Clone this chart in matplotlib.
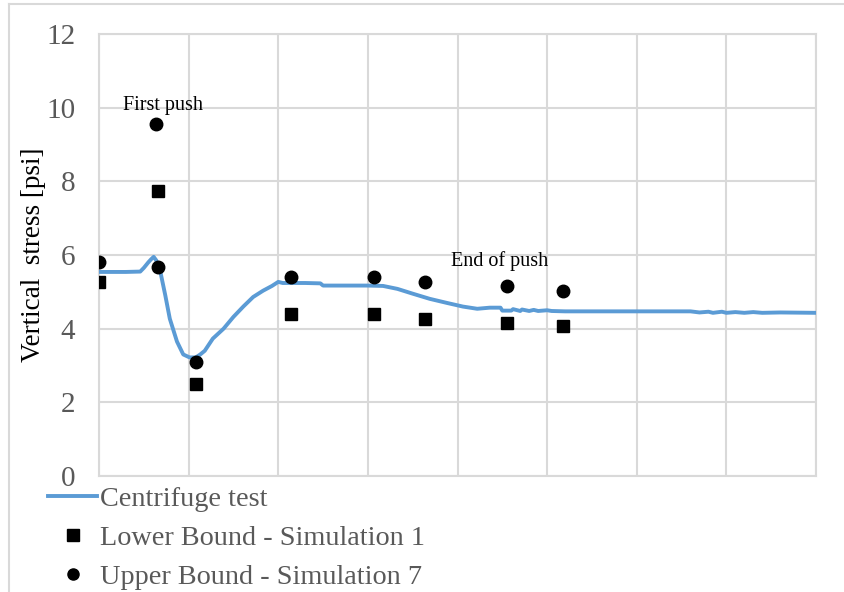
import matplotlib
matplotlib.use("Agg")
import matplotlib.pyplot as plt
from matplotlib.lines import Line2D

# ---- data ----
cent_x = [0.00, 0.30, 0.46, 0.50, 0.55, 0.58, 0.61, 0.64, 0.68, 0.74, 0.79, 0.87, 0.94,
          1.01, 1.08, 1.13, 1.18, 1.27, 1.39, 1.50, 1.61, 1.72, 1.83, 1.93, 2.00, 2.05,
          2.30, 2.47, 2.50, 2.80, 3.00, 3.17, 3.33, 3.50, 3.69, 3.88, 4.06, 4.22, 4.36,
          4.48, 4.50, 4.60, 4.62, 4.70, 4.72, 4.80, 4.85, 4.90, 5.00, 5.05, 5.20, 5.50,
          6.00, 6.60, 6.70, 6.80, 6.85, 6.95, 7.00, 7.10, 7.20, 7.30, 7.40, 7.60, 8.00]
cent_y = [5.54, 5.54, 5.55, 5.65, 5.80, 5.88, 5.95, 5.85, 5.60, 4.90, 4.27, 3.65, 3.30,
          3.22, 3.22, 3.30, 3.40, 3.73, 4.00, 4.32, 4.60, 4.86, 5.03, 5.16, 5.27, 5.24,
          5.24, 5.23, 5.17, 5.17, 5.17, 5.16, 5.08, 4.95, 4.81, 4.70, 4.60, 4.54, 4.57,
          4.57, 4.49, 4.49, 4.53, 4.48, 4.52, 4.48, 4.51, 4.48, 4.50, 4.48, 4.47, 4.47,
          4.47, 4.47, 4.44, 4.46, 4.43, 4.46, 4.43, 4.45, 4.43, 4.45, 4.43, 4.44, 4.43]

sim_x = [0.00, 0.66, 1.08, 2.14, 3.07, 3.64, 4.55, 5.18]
lower_y = [5.27, 7.73, 2.51, 4.40, 4.40, 4.27, 4.16, 4.08]
upper_x = [0.00, 0.64, 0.66, 1.08, 2.14, 3.07, 3.64, 4.55, 5.18]
upper_y = [5.81, 9.57, 5.68, 3.10, 5.40, 5.40, 5.27, 5.16, 5.03]

y_ticks = [0, 2, 4, 6, 8, 10, 12]
x_grid = [0, 1, 2, 3, 4, 5, 6, 7, 8]

series_names = ["Centrifuge test", "Lower Bound - Simulation 1", "Upper Bound - Simulation 7"]
annotations = [("First push", 0.71, 10.05), ("End of push", 4.47, 5.84)]

# ---- style ----
serif = ["Liberation Serif", "DejaVu Serif"]
plt.rcParams["font.family"] = serif
grid_col = "#d9d9d9"
tick_col = "#595959"
blue = "#5b9bd5"

W, H = 844, 592
fig = plt.figure(figsize=(W / 100, H / 100), dpi=100)
ax = fig.add_axes([99 / W, (H - 476) / H, (816 - 99) / W, (476 - 34) / H])

ax.set_xlim(0, 8)
ax.set_ylim(0, 12)
ax.set_yticks(y_ticks)
ax.set_xticks(x_grid)
ax.set_xticklabels([])
ax.tick_params(axis="both", length=0)
ax.tick_params(axis="y", labelsize=21, labelcolor=tick_col, pad=17)
ax.grid(True, color=grid_col, linewidth=1.5)
ax.set_axisbelow(True)
for s in ax.spines.values():
    s.set_color(grid_col)
    s.set_linewidth(1.5)

ax.plot(cent_x, cent_y, color=blue, linewidth=2.8, zorder=3)
ax.plot(sim_x, lower_y, linestyle="none", marker="s", markersize=8.5,
        color="black", zorder=4)
ax.plot(upper_x, upper_y, linestyle="none", marker="o", markersize=9,
        color="black", zorder=4)

for txt, tx, ty in annotations:
    ax.text(tx, ty, txt, ha="center", va="center", fontsize=14.5, color="black")

ax.set_ylabel("Vertical  stress [psi]", fontsize=19.5, color="black")
ax.yaxis.set_label_coords(-0.074, 0.5)

handles = [
    Line2D([], [], color=blue, linewidth=2.8),
    Line2D([], [], color="black", marker="s", linestyle="none", markersize=8),
    Line2D([], [], color="black", marker="o", linestyle="none", markersize=8),
]
leg = fig.legend(handles, series_names, loc="upper left",
                 bbox_to_anchor=(48 / W, 1 - 486 / H), frameon=False,
                 fontsize=20.3, labelcolor=tick_col, handlelength=1.74,
                 handletextpad=0.1, labelspacing=0.47, borderaxespad=0,
                 borderpad=0)

# outer chart frame (left and top edges visible)
fig.add_artist(Line2D([8.5 / W, 8.5 / W], [0, 1 - 3.5 / H], color=grid_col,
                      linewidth=1.5, transform=fig.transFigure))
fig.add_artist(Line2D([8.5 / W, 1], [1 - 3.5 / H, 1 - 3.5 / H], color=grid_col,
                      linewidth=1.5, transform=fig.transFigure))

fig.savefig("out.png", dpi=100)
